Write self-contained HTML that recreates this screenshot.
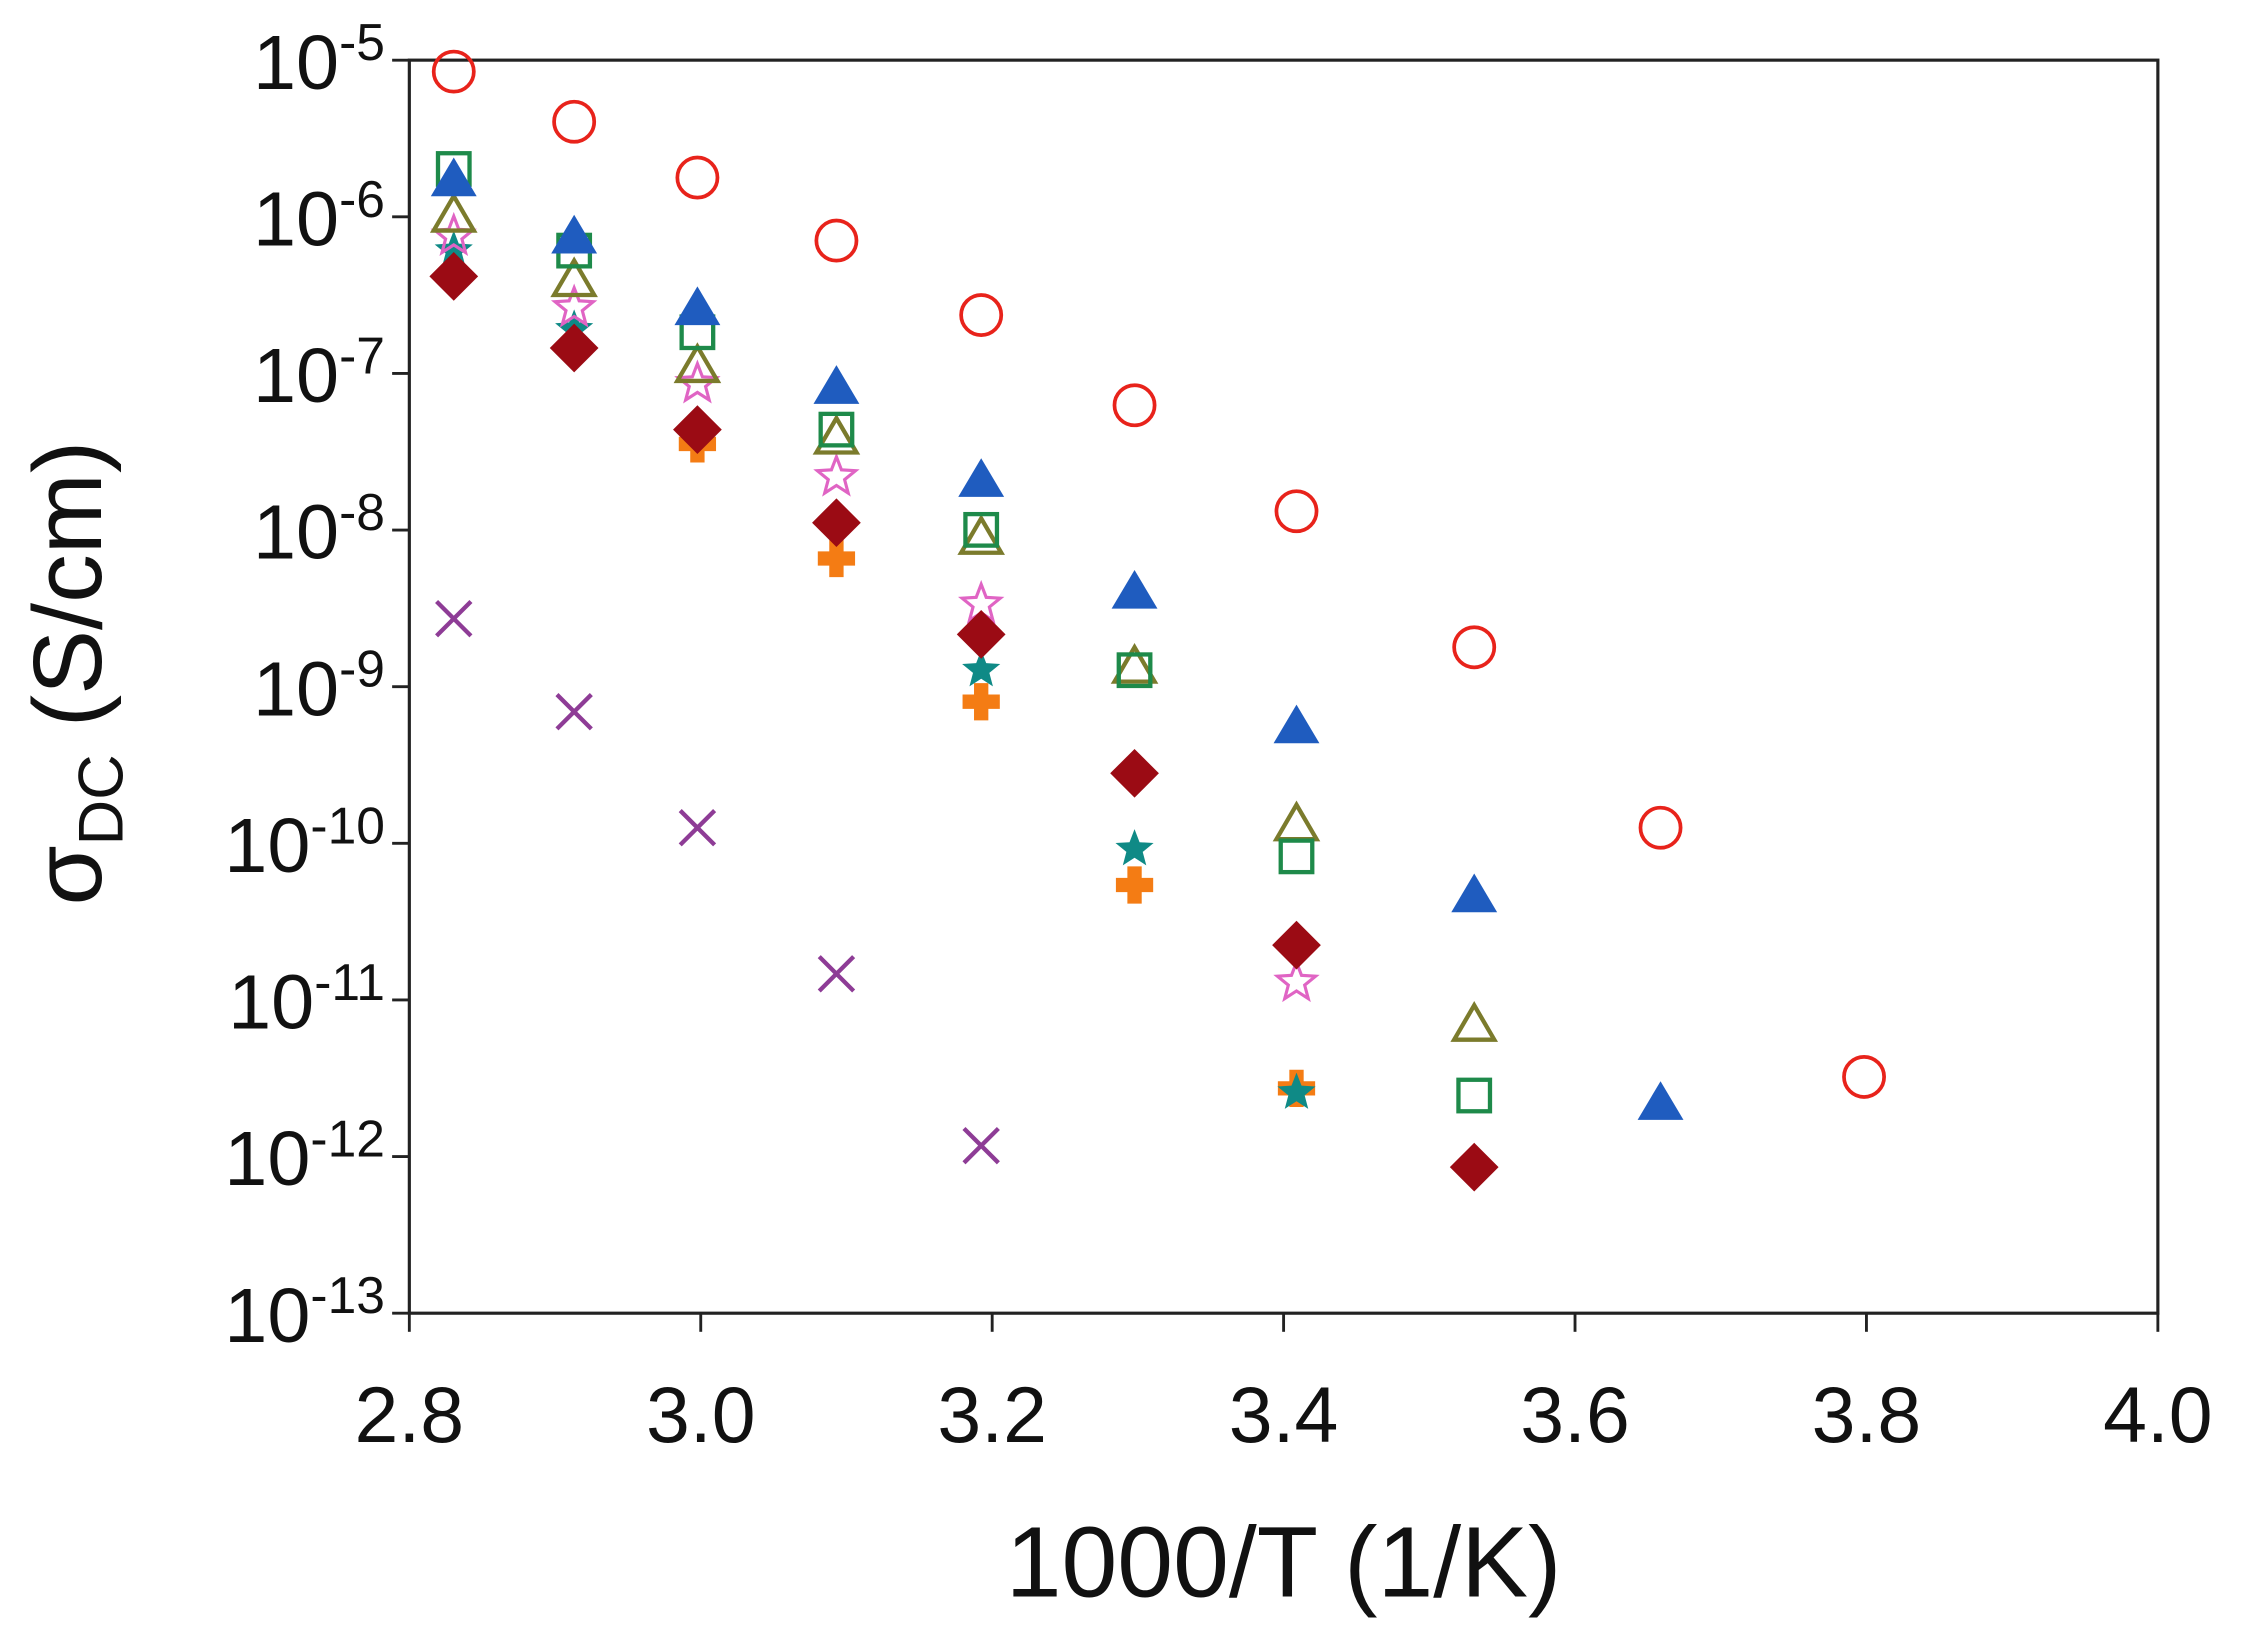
<!DOCTYPE html>
<html><head><meta charset="utf-8"><style>html,body{margin:0;padding:0;background:#fff}svg{display:block}</style></head>
<body>
<svg id="s" width="2243" height="1644" viewBox="1.4 0 1565 1148" preserveAspectRatio="none" xmlns="http://www.w3.org/2000/svg" font-family="'Liberation Sans', Arial, sans-serif">
<rect x="0" y="0" width="1570" height="1150" fill="#fff"/>
<g id="axes" stroke="#222" stroke-width="2.2" fill="none">
<rect x="287" y="42" width="1220" height="875"/>
</g>
<g id="ticks" stroke="#222" stroke-width="2"></g>
<g id="labels" fill="#111"></g>
<g id="data"></g>
<text x="897" y="1115" font-size="70" text-anchor="middle" fill="#111">1000/T (1/K)</text>
<text transform="translate(72,470) rotate(-90)" font-size="68" text-anchor="middle" fill="#111">σ<tspan font-size="44" dy="15">DC</tspan><tspan dy="-15"> (S/cm)</tspan></text>
</svg>
<script>
var NS="http://www.w3.org/2000/svg";
function el(p,t,a,txt){var e=document.createElementNS(NS,t);for(var k in a)e.setAttribute(k,a[k]);if(txt!=null)e.textContent=txt;p.appendChild(e);return e;}
var L=287,R=1507,T=42,B=917,dec=(B-T)/8;
function X(v){return L+(v-2.8)/1.2*(R-L);}
var tk=document.getElementById('ticks'),lb=document.getElementById('labels');
for(var i=0;i<=8;i++){var y=T+i*dec;el(tk,'line',{x1:275,y1:y,x2:287,y2:y});
 var t=el(lb,'text',{x:270,y:y+20,'font-size':54,'text-anchor':'end'});
 el(t,'tspan',{},'10');el(t,'tspan',{'font-size':36,dy:-20},'-'+(5+i));}
for(var i=0;i<=6;i++){var v=2.8+i*0.2,x=X(v);el(tk,'line',{x1:x,y1:917,x2:x,y2:930});
 el(lb,'text',{x:x,y:1007,'font-size':55,'text-anchor':'middle'},v.toFixed(1));}
var D=document.getElementById('data');
function mk(type,x,y){
 switch(type){
 case 'circ':el(D,'circle',{cx:x,cy:y,r:14,fill:'none',stroke:'#e8231b','stroke-width':2.6});break;
 case 'tri':el(D,'polygon',{points:(x-16)+','+(y+12)+' '+x+','+(y-15)+' '+(x+16)+','+(y+12),fill:'#1f5cbf'});break;
 case 'sq':el(D,'rect',{x:x-11,y:y-11,width:22,height:22,fill:'none',stroke:'#1e8a4a','stroke-width':3});break;
 case 'otri':el(D,'polygon',{points:(x-14)+','+(y+11)+' '+x+','+(y-13)+' '+(x+14)+','+(y+11),fill:'none',stroke:'#7b7b2c','stroke-width':3});break;
 case 'ostar':case 'fstar':{var p=[];for(var k=0;k<10;k++){var r=k%2?6:14,a=-Math.PI/2+k*Math.PI/5;p.push((x+r*Math.cos(a)).toFixed(1)+','+(y+r*Math.sin(a)).toFixed(1));}
  if(type=='ostar')el(D,'polygon',{points:p.join(' '),fill:'none',stroke:'#e064c4','stroke-width':2.2});
  else el(D,'polygon',{points:p.join(' '),fill:'#0f8a86'});break;}
 case 'dia':el(D,'polygon',{points:x+','+(y-17)+' '+(x+17)+','+y+' '+x+','+(y+17)+' '+(x-17)+','+y,fill:'#9b0b14'});break;
 case 'plus':el(D,'path',{d:'M'+(x-5)+' '+(y-13)+'h10v8h8v10h-8v8h-10v-8h-8v-10h8z',fill:'#f47c14'});break;
 case 'x':el(D,'path',{d:'M'+(x-12)+' '+(y-12)+'L'+(x+12)+' '+(y+12)+'M'+(x+12)+' '+(y-12)+'L'+(x-12)+' '+(y+12),stroke:'#8e3c96','stroke-width':3});break;
 }}
var xs=[318,402,488,585,686,793,906,1030,1160,1302];
function ser(type,cols,ys){for(var i=0;i<ys.length;i++)mk(type,xs[cols[i]],ys[i]);}
ser('x',[0,1,2,3,4],[432,497,578,680,800]);
ser('plus',[2,3,4,5,6],[310,390,490,618,760]);
ser('fstar',[0,1,4,5,6],[175,230,468,593,763]);
ser('ostar',[0,1,2,3,4,6],[165,215,268,333,422,686]);
ser('otri',[0,1,2,3,4,5,6,7],[150,195,255,305,375,465,575,715]);
ser('sq',[0,1,2,3,4,5,6,7],[118,175,232,300,370,468,598,765]);
ser('tri',[0,1,2,3,4,5,6,7,8],[125,165,215,270,335,413,507,625,770]);
ser('dia',[0,1,2,3,4,5,6,7],[193,243,300,365,443,540,660,815]);
ser('circ',[0,1,2,3,4,5,6,7,8,9],[50,85,124,168,220,283,357,452,578,752]);
</script>
</body></html>
